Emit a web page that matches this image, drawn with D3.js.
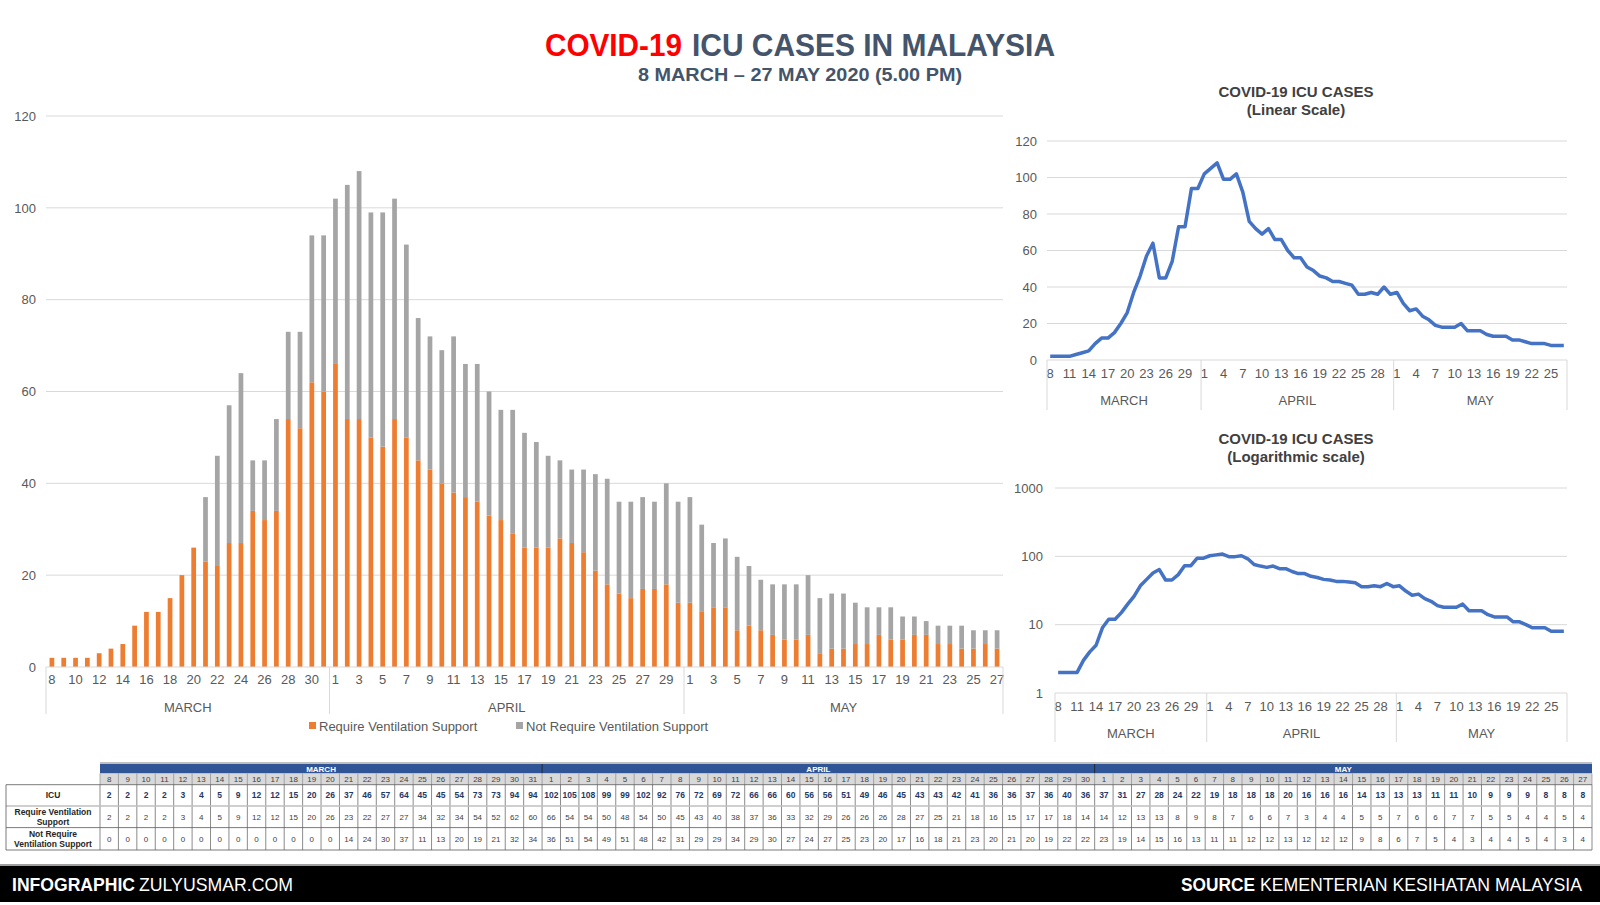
<!DOCTYPE html>
<html><head><meta charset="utf-8">
<script src="https://cdn.jsdelivr.net/npm/d3@7"></script>
<style>
html,body{margin:0;padding:0;background:#fff;}
svg{display:block;font-family:"Liberation Sans",Arial,sans-serif;}
</style></head>
<body>
<svg id="c" width="1600" height="905"></svg>
<script>
// ---------- DATA ----------
const months = ["MARCH", "APRIL", "MAY"];
const marchDays = [8,9,10,11,12,13,14,15,16,17,18,19,20,21,22,23,24,25,26,27,28,29,30,31];
const aprilDays = [1,2,3,4,5,6,7,8,9,10,11,12,13,14,15,16,17,18,19,20,21,22,23,24,25,26,27,28,29,30];
const mayDays = [1,2,3,4,5,6,7,8,9,10,11,12,13,14,15,16,17,18,19,20,21,22,23,24,25,26,27];
const icu = [2,2,2,2,3,4,5,9,12,12,15,20,26,37,46,57,64,45,45,54,73,73,94,94,
  102,105,108,99,99,102,92,76,72,69,72,66,66,60,56,56,51,49,46,45,43,43,42,41,36,36,37,36,40,36,
  37,31,27,28,24,22,19,18,18,18,20,16,16,16,14,13,13,13,11,11,10,9,9,9,8,8,8];
const ventilation = [2,2,2,2,3,4,5,9,12,12,15,20,26,23,22,27,27,34,32,34,54,52,62,60,
  66,54,54,50,48,54,50,45,43,40,38,37,36,33,32,29,26,26,26,28,27,25,21,18,16,15,17,17,18,14,
  14,12,13,13,8,9,8,7,6,6,7,3,4,4,5,5,7,6,6,7,7,5,5,4,4,5,4];
const noVentilation = [0,0,0,0,0,0,0,0,0,0,0,0,0,14,24,30,37,11,13,20,19,21,32,34,
  36,51,54,49,51,48,42,31,29,29,34,29,30,27,24,27,25,23,20,17,16,18,21,23,20,21,20,19,22,22,
  23,19,14,15,16,13,11,11,12,12,13,12,12,12,9,8,6,7,5,4,3,4,4,5,4,3,4];
const mainYTicks = [0,20,40,60,80,100,120];
const linYTicks = [0,20,40,60,80,100,120];
const logYTicks = [1,10,100,1000];
const seriesNames = ["Require Ventilation Support", "Not Require Ventilation Support"];
const rowLabels = [["ICU"], ["Require Ventilation", "Support"], ["Not Require", "Ventilation Support"]];

// ---------- DERIVED ----------
const dayLists = [marchDays, aprilDays, mayDays];
const days = [];
dayLists.forEach((list, m) => list.forEach(d => days.push({m, d})));
const idx = days.map((_, i) => i);
const monthStarts = [0, marchDays.length, marchDays.length + aprilDays.length];
const monthEnds = [marchDays.length - 1, marchDays.length + aprilDays.length - 1, days.length - 1];

const svg = d3.select("#c");
const ORANGE = "#ED7D31", GRAY = "#A5A5A5", BLUE = "#4472C4", GRID = "#D9D9D9", TXT = "#595959";
const SLATE = "#44546A";

// ---------- TITLES ----------
svg.append("text").attr("x", 545).attr("y", 56).attr("font-size", 32).attr("font-weight", "bold")
  .attr("fill", "#FF0000").attr("textLength", 137).attr("lengthAdjust", "spacingAndGlyphs").text("COVID-19");
svg.append("text").attr("x", 692).attr("y", 56).attr("font-size", 32).attr("font-weight", "bold")
  .attr("fill", SLATE).attr("textLength", 363).attr("lengthAdjust", "spacingAndGlyphs").text("ICU CASES IN MALAYSIA");
svg.append("text").attr("x", 638).attr("y", 81).attr("font-size", 19).attr("font-weight", "bold")
  .attr("fill", SLATE).attr("textLength", 324).attr("lengthAdjust", "spacingAndGlyphs").text("8 MARCH \u2013 27 MAY 2020 (5.00 PM)");

// ---------- MAIN STACKED BAR CHART ----------
{
  const x = d3.scaleBand().domain(idx).range([46, 1003]).paddingInner(0.6).paddingOuter(0.3);
  const y = d3.scaleLinear().domain([0, 120]).range([667, 116]);
  const g = svg.append("g");
  g.selectAll("line.grid").data(mainYTicks.slice(1)).join("line")
    .attr("x1", 46).attr("x2", 1003).attr("y1", d => y(d)).attr("y2", d => y(d))
    .attr("stroke", GRID).attr("stroke-width", 1);
  const yAxis = d3.axisLeft(y).tickValues(mainYTicks).tickSize(0).tickPadding(0);
  const ya = g.append("g").attr("transform", "translate(36,0)").call(yAxis);
  ya.select(".domain").remove();
  ya.selectAll("text").attr("fill", TXT).attr("font-size", 13).attr("font-family", "Liberation Sans, Arial, sans-serif");

  const stack = d3.stack().keys([0, 1]).value((i, k) => k === 0 ? ventilation[i] : noVentilation[i]);
  const layers = stack(idx);
  g.selectAll("g.layer").data(layers).join("g").attr("fill", (d, k) => k === 0 ? ORANGE : GRAY)
    .selectAll("rect").data(d => d).join("rect")
    .attr("x", d => x(d.data)).attr("width", x.bandwidth())
    .attr("y", d => y(d[1])).attr("height", d => y(d[0]) - y(d[1]));

  g.append("line").attr("x1", 46).attr("x2", 1003).attr("y1", y(0)).attr("y2", y(0)).attr("stroke", GRID);
  const tickIdx = idx.filter(i => (i - monthStarts[days[i].m]) % 2 === 0);
  const xAxis = d3.axisBottom(x).tickValues(tickIdx).tickFormat(i => days[i].d).tickSize(0).tickPadding(8);
  const xa = g.append("g").attr("transform", `translate(0,${y(0)})`).call(xAxis);
  xa.select(".domain").remove();
  xa.selectAll("text").attr("fill", TXT).attr("font-size", 13).attr("font-family", "Liberation Sans, Arial, sans-serif");
  const step = x.step();
  const bandStart = i => x(i) - step * x.paddingInner() / 2;
  const seps = monthStarts.map(bandStart).concat([bandStart(days.length - 1) + step]);
  g.selectAll("line.sep").data(seps).join("line")
    .attr("x1", d => d).attr("x2", d => d).attr("y1", y(0)).attr("y2", 714)
    .attr("stroke", GRID).attr("stroke-width", 1);
  g.selectAll("text.month").data(months).join("text")
    .attr("x", (d, m) => (seps[m] + seps[m + 1]) / 2).attr("y", 712)
    .attr("text-anchor", "middle").attr("font-size", 13).attr("fill", TXT).text(d => d);
  const lg = g.append("g").attr("transform", "translate(309,726)");
  const lx = [0, 207];
  seriesNames.forEach((n, k) => {
    lg.append("rect").attr("x", lx[k]).attr("y", -4).attr("width", 7).attr("height", 7).attr("fill", k === 0 ? ORANGE : GRAY);
    lg.append("text").attr("x", lx[k] + 10).attr("y", 4.5).attr("font-size", 13).attr("fill", TXT).text(n);
  });
}

// ---------- SMALL LINE CHARTS ----------
function lineChart(opts) {
  const g = svg.append("g");
  const x = d3.scaleBand().domain(idx).range([opts.x0, opts.x1]).padding(0);
  const y = opts.y;
  const cx = i => x(i) + x.bandwidth() / 2;
  g.append("text").attr("x", opts.tx).attr("y", opts.ty).attr("text-anchor", "middle")
    .attr("font-size", 15).attr("font-weight", "bold").attr("fill", "#404040").text("COVID-19 ICU CASES");
  g.append("text").attr("x", opts.tx).attr("y", opts.ty + 18).attr("text-anchor", "middle")
    .attr("font-size", 15).attr("font-weight", "bold").attr("fill", "#404040").text(opts.sub);
  g.selectAll("line.grid").data(opts.ticks).join("line")
    .attr("x1", opts.x0).attr("x2", opts.x1).attr("y1", d => y(d)).attr("y2", d => y(d))
    .attr("stroke", GRID);
  const ya = g.append("g").attr("transform", `translate(${opts.lx},0)`)
    .call(d3.axisLeft(y).tickValues(opts.ticks).tickFormat(d3.format("d")).tickSize(0).tickPadding(0));
  ya.select(".domain").remove();
  ya.selectAll("text").attr("fill", TXT).attr("font-size", 13).attr("font-family", "Liberation Sans, Arial, sans-serif");
  const base = opts.ticks[0];
  const tickIdx = idx.filter(i => i % 3 === 0);
  const xa = g.append("g").attr("transform", `translate(0,${y(base)})`)
    .call(d3.axisBottom(x).tickValues(tickIdx).tickFormat(i => days[i].d).tickSize(0).tickPadding(9));
  xa.select(".domain").remove();
  xa.selectAll("text").attr("fill", TXT).attr("font-size", 13).attr("font-family", "Liberation Sans, Arial, sans-serif");
  const seps = monthStarts.map(i => x(i)).concat([opts.x1]);
  g.selectAll("line.sep").data(seps).join("line")
    .attr("x1", d => d).attr("x2", d => d).attr("y1", y(base)).attr("y2", opts.sepBottom).attr("stroke", GRID);
  g.selectAll("text.month").data(months).join("text")
    .attr("x", (d, m) => (seps[m] + seps[m + 1]) / 2).attr("y", opts.my)
    .attr("text-anchor", "middle").attr("font-size", 13).attr("fill", TXT).text(d => d);
  g.append("path").datum(idx)
    .attr("d", d3.line().x(cx).y(i => y(icu[i])))
    .attr("fill", "none").attr("stroke", BLUE).attr("stroke-width", 3.5).attr("stroke-linejoin", "round");
}
lineChart({
  x0: 1047, x1: 1567, y: d3.scaleLinear().domain([0, 120]).range([360, 141]),
  ticks: linYTicks, lx: 1037, tx: 1296, ty: 97, sub: "(Linear Scale)", my: 405, sepBottom: 410
});
lineChart({
  x0: 1055, x1: 1567, y: d3.scaleLog().domain([1, 1000]).range([693, 488]),
  ticks: logYTicks, lx: 1043, tx: 1296, ty: 444, sub: "(Logarithmic scale)", my: 738, sepBottom: 742
});

// ---------- TABLE ----------
{
  const g = svg.append("g");
  const tx = d3.scaleBand().domain(idx).range([100, 1592]);
  const yH = 764, yD = 773.5, yR = [784.7, 806, 827.6], yB = 850;
  g.append("rect").attr("x", 100).attr("y", yH - 2).attr("width", 1492).attr("height", 2).attr("fill", "#BFBFBF");
  g.append("rect").attr("x", 100).attr("y", yH).attr("width", 1492).attr("height", yD - yH).attr("fill", "#2F5597");
  months.forEach((mName, m) => {
    const a = tx(monthStarts[m]), b = tx(monthEnds[m]) + tx.bandwidth();
    g.append("text").attr("x", (a + b) / 2).attr("y", yD - 1.8).attr("text-anchor", "middle")
      .attr("font-size", 8).attr("font-weight", "bold").attr("fill", "#fff").text(mName);
    if (m > 0) g.append("line").attr("x1", a).attr("x2", a).attr("y1", yH).attr("y2", yD).attr("stroke", "#1a1a1a").attr("stroke-width", 0.8);
  });
  g.append("rect").attr("x", 100).attr("y", yD).attr("width", 1492).attr("height", yR[0] - yD).attr("fill", "#D9D9D9");
  g.selectAll("text.day").data(idx).join("text")
    .attr("x", i => tx(i) + tx.bandwidth() / 2).attr("y", yR[0] - 2.5).attr("text-anchor", "middle")
    .attr("font-size", 8).attr("fill", "#404040").text(i => days[i].d);
  const rows = [icu, ventilation, noVentilation];
  rows.forEach((arr, r) => {
    const yc = (yR[r] + (r < 2 ? yR[r + 1] : yB)) / 2;
    g.selectAll("text.r" + r).data(arr).join("text")
      .attr("x", (v, i) => tx(i) + tx.bandwidth() / 2).attr("y", yc + 3)
      .attr("text-anchor", "middle").attr("font-size", r === 0 ? 8.5 : 8)
      .attr("font-weight", r === 0 ? "bold" : "normal")
      .attr("fill", r === 0 ? "#1F3864" : "#404040").text(v => v);
    const lines = rowLabels[r];
    lines.forEach((t, k) => {
      g.append("text").attr("x", 53).attr("y", yc + 3 + (k - (lines.length - 1) / 2) * 10)
        .attr("text-anchor", "middle").attr("font-size", 8.5).attr("font-weight", "bold").attr("fill", "#262626").text(t);
    });
  });
  const vlines = idx.map(i => tx(i)).concat([1592]);
  g.selectAll("line.vd").data(vlines).join("line")
    .attr("x1", d => d).attr("x2", d => d).attr("y1", yD).attr("y2", yR[0]).attr("stroke", "#808080").attr("stroke-width", 0.6);
  g.selectAll("line.vr").data(vlines).join("line")
    .attr("x1", d => d).attr("x2", d => d).attr("y1", yR[0]).attr("y2", yB).attr("stroke", "#595959").attr("stroke-width", 0.7);
  [yR[0], yR[1], yR[2], yB].forEach((yy, k) => {
    g.append("line").attr("x1", 6).attr("x2", 1592).attr("y1", yy).attr("y2", yy)
      .attr("stroke", k === 1 ? "#BFBFBF" : "#595959").attr("stroke-width", k === 1 ? 1.6 : 0.8);
  });
  g.append("line").attr("x1", 6).attr("x2", 6).attr("y1", yR[0]).attr("y2", yB).attr("stroke", "#595959").attr("stroke-width", 0.8);
}

// ---------- FOOTER ----------
svg.append("rect").attr("x", 0).attr("y", 866).attr("width", 1600).attr("height", 36).attr("fill", "#000");
svg.append("line").attr("x1", 0).attr("x2", 1600).attr("y1", 865).attr("y2", 865).attr("stroke", "#7F7F7F").attr("stroke-width", 1.5);
const ft = [
  {x: 12, w: 123, t: "INFOGRAPHIC", b: true},
  {x: 139, w: 154, t: "ZULYUSMAR.COM", b: false},
  {x: 1181, w: 74, t: "SOURCE", b: true},
  {x: 1260, w: 322, t: "KEMENTERIAN KESIHATAN MALAYSIA", b: false}
];
svg.selectAll("text.ft").data(ft).join("text")
  .attr("x", d => d.x).attr("y", 890.5).attr("font-size", 18.5).attr("font-weight", d => d.b ? "bold" : "normal")
  .attr("fill", "#fff").attr("textLength", d => d.w).attr("lengthAdjust", "spacingAndGlyphs").text(d => d.t);
</script>
</body></html>
